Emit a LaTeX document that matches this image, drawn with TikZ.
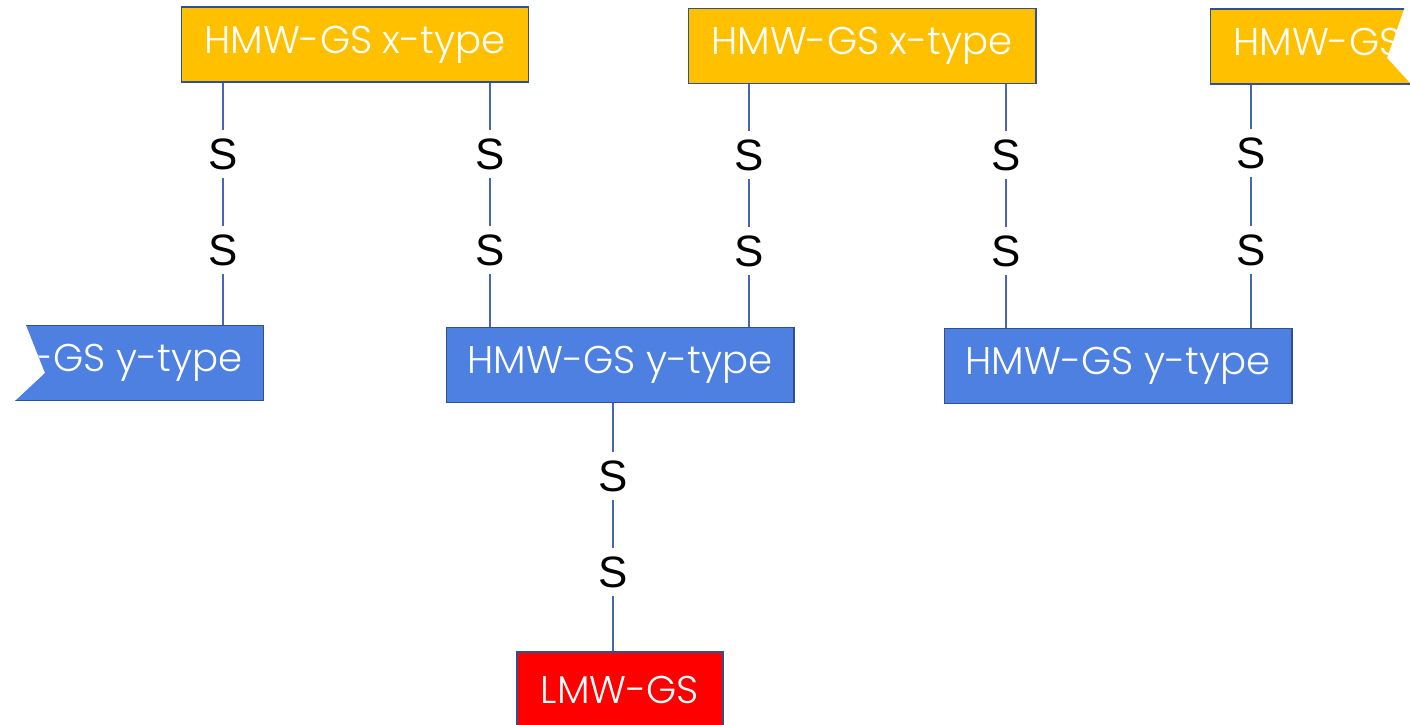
\documentclass[tikz,border=0pt]{standalone}
\usepackage{fontspec}
\setmainfont{Poppins}[UprightFont=* Light]
\newfontfamily\sfont{Liberation Sans}
\definecolor{hmwx}{RGB}{255,192,0}
\definecolor{hmwy}{RGB}{77,128,224}
\definecolor{lmwred}{RGB}{255,0,0}
\definecolor{edgeblue}{RGB}{47,82,143}
\definecolor{linkblue}{RGB}{68,104,180}

\begin{document}
\begin{tikzpicture}[x=0.02cm,y=-0.02cm,
  gs/.style={draw=edgeblue,line width=0.6pt,text=white,minimum width=6.96cm,minimum height=1.5cm,inner sep=0pt,font=\fontsize{22}{26}\selectfont},
  xtype/.style={gs,fill=hmwx},
  ytype/.style={gs,fill=hmwy},
  lmw/.style={gs,fill=lmwred,minimum width=4.12cm},
  sbond/.style={font=\sfont\fontsize{25}{29}\selectfont,inner sep=0.16cm},
  link/.style={draw=linkblue,line width=0.8pt}]

\clip (0,0) rectangle (1410,724);

% x-type subunits
\node[xtype] (x1) at (355,44.5) {HMW-GS x-type};
\node[xtype] (x2) at (862,46) {HMW-GS x-type};
\begin{scope}
\clip (1200,0) -- (1404,0) -- (1404,9) -- (1387,58) -- (1410,83) -- (1410,95) -- (1200,95) -- cycle;
\node[xtype] (x3) at (1384,46.5) {HMW-GS x-type};
\end{scope}

% y-type subunits
\begin{scope}
\clip (26,315) -- (26,325) -- (45,373) -- (15,401) -- (15,411) -- (275,411) -- (275,315) -- cycle;
\node[ytype] (y1) at (90,363) {HMW-GS y-type};
\end{scope}
\node[ytype] (y2) at (620,365) {HMW-GS y-type};
\node[ytype] (y3) at (1118,366) {HMW-GS y-type};

\node[lmw] (lmw) at (620,689.5) {LMW-GS};

% disulphide bonds
\foreach \n/\x/\ya/\yb/\up/\down in {a/223/154/250/x1/y1, b/490/154/250/x1/y2, c/749/155/251/x2/y2, d/1006/155/251/x2/y3, e/1251/153/250/x3/y3, f/613/476/572/y2/lmw}{
  \node[sbond] (s\n1) at (\x,\ya) {S};
  \node[sbond] (s\n2) at (\x,\yb) {S};
  \draw[link] (s\n1 |- \up.south) -- (s\n1) -- (s\n2) -- (s\n2 |- \down.north);
}
\end{tikzpicture}
\end{document}
